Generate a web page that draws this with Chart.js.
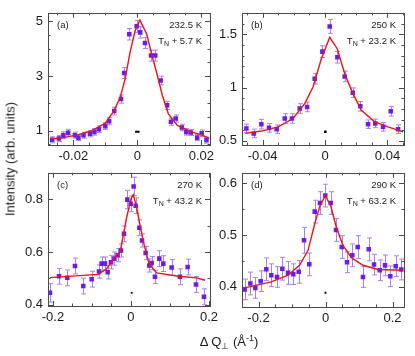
<!DOCTYPE html>
<html>
<head>
<meta charset="utf-8">
<script src="https://cdn.jsdelivr.net/npm/chart.js@4.4.0/dist/chart.umd.min.js"></script>
<style>
  body { margin: 0; background: #fff; width: 415px; height: 356px; position: relative; overflow: hidden;
         font-family: "Liberation Sans", Arial, sans-serif; color: #1a1a1a; }
  canvas { position: absolute; }
  .title { position: absolute; font-size: 13px; white-space: nowrap; z-index: 5; }
  #ytitle { left: 10px; top: 159px; transform: translate(-50%, -50%) rotate(-90deg); }
  #xtitle { left: 229px; top: 342px; transform: translate(-50%, -50%); }
  .title sub, .title sup { font-size: 9px; }
</style>
</head>
<body>
<div id="ytitle" class="title">Intensity (arb. units)</div>
<div id="xtitle" class="title">&Delta; Q<sub>&perp;</sub> (&Aring;<sup>-1</sup>)</div>
<script>
// (a) 232.5 K
const xA = [-0.0266, -0.0245, -0.0231, -0.0216, -0.0195, -0.0184, -0.0168, -0.0148, -0.0134, -0.0120, -0.0100, -0.0088, -0.0072, -0.0051, -0.0041, -0.0025, -0.0002, 0.0009, 0.0024, 0.0043, 0.0056, 0.0073, 0.0093, 0.0105, 0.0120, 0.0139, 0.0153, 0.0167, 0.0187, 0.0201, 0.0216];
const yA = [0.67, 0.72, 0.84, 0.93, 0.84, 0.75, 0.84, 0.89, 0.96, 1.06, 1.17, 1.35, 1.72, 2.16, 3.11, 4.53, 4.82, 4.60, 4.21, 3.75, 3.75, 2.84, 1.93, 1.33, 1.45, 1.12, 0.96, 0.94, 0.75, 0.91, 0.66];
const errA = [0.11, 0.11, 0.12, 0.12, 0.11, 0.11, 0.11, 0.11, 0.12, 0.12, 0.12, 0.13, 0.14, 0.15, 0.2, 0.21, 0.22, 0.21, 0.2, 0.2, 0.2, 0.16, 0.15, 0.13, 0.13, 0.12, 0.12, 0.11, 0.11, 0.12, 0.11];
const fitXA = [-0.0268, -0.0226, -0.0184, -0.0143, -0.0100, -0.0072, -0.0053, -0.0038, -0.0023, -0.0007, 0.0008, 0.0029, 0.0045, 0.0062, 0.0078, 0.0097, 0.0125, 0.0167, 0.0203, 0.0225];
const fitYA = [0.70, 0.76, 0.86, 1.00, 1.28, 1.75, 2.24, 2.90, 3.85, 4.66, 5.05, 4.55, 3.80, 3.05, 2.30, 1.62, 1.20, 0.97, 0.84, 0.72];
const resXA = [-0.0007, 0.0007];
const resYA = [0.964, 0.964];
const xTicksA = [-0.02, 0, 0.02];
const yTicksA = [1, 3, 5];

// (b) 250 K
const xB = [-0.0504, -0.0457, -0.0408, -0.0359, -0.0310, -0.0258, -0.0212, -0.0162, -0.0115, -0.0066, -0.0017, 0.0030, 0.0079, 0.0126, 0.0178, 0.0226, 0.0276, 0.0322, 0.0372, 0.0421, 0.0468];
const yB = [0.617, 0.570, 0.657, 0.622, 0.610, 0.710, 0.710, 0.804, 0.819, 1.084, 1.339, 1.576, 1.286, 1.106, 0.953, 0.825, 0.657, 0.664, 0.632, 0.778, 0.610];
const errB = [0.04, 0.04, 0.045, 0.04, 0.04, 0.045, 0.045, 0.045, 0.045, 0.05, 0.055, 0.065, 0.055, 0.05, 0.045, 0.045, 0.04, 0.04, 0.04, 0.045, 0.04];
const fitXB = [-0.0511, -0.0408, -0.0301, -0.0205, -0.0130, -0.0077, -0.0024, 0.0030, 0.0079, 0.0126, 0.0179, 0.0233, 0.0319, 0.0404, 0.0500];
const fitYB = [0.570, 0.592, 0.632, 0.710, 0.850, 1.006, 1.270, 1.473, 1.364, 1.131, 0.944, 0.788, 0.679, 0.632, 0.585];
const resXB = [0.0002];
const resYB = [0.585];
const xTicksB = [-0.04, 0, 0.04];
const yTicksB = [0.5, 1, 1.5];

// (c) 270 K
const xC = [-0.2077, -0.1846, -0.1633, -0.1436, -0.1223, -0.1008, -0.0821, -0.0752, -0.0667, -0.0598, -0.0513, -0.0427, -0.0342, -0.0256, -0.0179, -0.0094, -0.0008, 0.0068, 0.0120, 0.0214, 0.0282, 0.0376, 0.0470, 0.0530, 0.0615, 0.0726, 0.0829, 0.1043, 0.1256, 0.1453, 0.1667, 0.1872];
const yC = [0.445, 0.508, 0.502, 0.547, 0.471, 0.497, 0.526, 0.556, 0.556, 0.523, 0.561, 0.575, 0.588, 0.606, 0.669, 0.799, 0.783, 0.849, 0.776, 0.692, 0.644, 0.596, 0.549, 0.558, 0.506, 0.575, 0.556, 0.541, 0.506, 0.543, 0.477, 0.430];
const errC = [0.035, 0.03, 0.03, 0.03, 0.03, 0.03, 0.025, 0.025, 0.025, 0.025, 0.025, 0.025, 0.025, 0.025, 0.03, 0.035, 0.03, 0.035, 0.03, 0.03, 0.025, 0.025, 0.025, 0.025, 0.025, 0.03, 0.03, 0.03, 0.03, 0.03, 0.03, 0.03];
const fitXC = [-0.2077, -0.0838, -0.0623, -0.0410, -0.0280, -0.0110, 0.0000, 0.0059, 0.0146, 0.0231, 0.0341, 0.0462, 0.0659, 0.1213, 0.1685, 0.1897];
const fitYC = [0.503, 0.515, 0.537, 0.581, 0.600, 0.732, 0.802, 0.817, 0.770, 0.701, 0.625, 0.556, 0.521, 0.508, 0.502, 0.493];
const resXC = [0.0018];
const resYC = [0.445];
const xTicksC = [-0.2, 0, 0.2];
const yTicksC = [0.4, 0.6, 0.8];

// (d) 290 K
const xD = [-0.2413, -0.2244, -0.2095, -0.1935, -0.1767, -0.1618, -0.1448, -0.1289, -0.1119, -0.0961, -0.0800, -0.0642, -0.0484, -0.0322, -0.0164, -0.0006, 0.0155, 0.0313, 0.0484, 0.0642, 0.0800, 0.0961, 0.1119, 0.1290, 0.1448, 0.1618, 0.1776, 0.1934, 0.2096, 0.2263];
const yD = [0.395, 0.4065, 0.398, 0.411, 0.434, 0.4225, 0.419, 0.435, 0.427, 0.4245, 0.429, 0.490, 0.4435, 0.5455, 0.562, 0.5765, 0.562, 0.510, 0.477, 0.4475, 0.461, 0.477, 0.419, 0.4725, 0.443, 0.432, 0.4415, 0.4205, 0.440, 0.4335];
const errD = [0.02, 0.022, 0.02, 0.02, 0.022, 0.022, 0.02, 0.022, 0.022, 0.02, 0.022, 0.025, 0.022, 0.022, 0.022, 0.022, 0.022, 0.022, 0.022, 0.02, 0.022, 0.022, 0.02, 0.022, 0.02, 0.02, 0.02, 0.02, 0.02, 0.02];
const fitXD = [-0.2412, -0.1618, -0.1119, -0.0770, -0.0522, -0.0322, -0.0164, -0.0006, 0.0155, 0.0322, 0.0522, 0.0770, 0.1119, 0.1567, 0.2313];
const fitYD = [0.398, 0.4096, 0.4225, 0.442, 0.4706, 0.522, 0.557, 0.5765, 0.557, 0.5154, 0.480, 0.4565, 0.4417, 0.4335, 0.432];
const resXD = [0.0];
const resYD = [0.3885];
const xTicksD = [-0.2, 0, 0.2];
const yTicksD = [0.4, 0.5, 0.6];

const RED = "#e8141c";
const MARK = "#6a1cf0";
const BAR = "#a682f5";
const FRAME = "#4a4a4a";
const FONT = "Liberation Sans";

// box = canvas [left, top, width, height], frame = plot area [left, top, right, bottom]
const panels = [
    { box: [0, 0, 226, 165], frame: [48, 12, 210, 145], xr: [-0.0279, 0.0227], yr: [0.48, 5.316],
      x: xA, y: yA, err: errA, fx: fitXA, fy: fitYA, rx: resXA, ry: resYA, xt: xTicksA, yt: yTicksA,
      xm: 0.005, ym: 0.5, resDot: 0, tag: "(a)", temp: "232.5 K", tn: " + 5.7 K" },
    { box: [212, 0, 203, 165], frame: [242, 12, 404, 145], xr: [-0.0532, 0.0506], yr: [0.461, 1.704],
      x: xB, y: yB, err: errB, fx: fitXB, fy: fitYB, rx: resXB, ry: resYB, xt: xTicksB, yt: yTicksB,
      xm: 0.01, ym: 0.1, resDot: 1.8, tag: "(b)", temp: "250 K", tn: " + 23.2 K" },
    { box: [0, 160, 226, 196], frame: [48, 172, 210, 306], xr: [-0.2128, 0.2026], yr: [0.3951, 0.9008],
      x: xC, y: yC, err: errC, fx: fitXC, fy: fitYC, rx: resXC, ry: resYC, xt: xTicksC, yt: yTicksC,
      xm: 0.05, ym: 0.1, resDot: 1.3, tag: "(c)", temp: "270 K", tn: " + 43.2 K" },
    { box: [212, 160, 203, 196], frame: [242, 172, 404, 307], xr: [-0.2493, 0.2343], yr: [0.361, 0.6206],
      x: xD, y: yD, err: errD, fx: fitXD, fy: fitYD, rx: resXD, ry: resYD, xt: xTicksD, yt: yTicksD,
      xm: 0.05, ym: 0.05, resDot: 1.3, tag: "(d)", temp: "290 K", tn: " + 63.2 K" }
];

function toPoints(xs, ys) {
    return xs.map((v, i) => ({ x: v, y: ys[i] }));
}

function drawTickMarks(ctx, scale, values, len, area, horizontal) {
    values.forEach(v => {
        const p = Math.round(scale.getPixelForValue(v)) + 0.5;
        ctx.beginPath();
        if (horizontal) {
            ctx.moveTo(p, area.bottom); ctx.lineTo(p, area.bottom - len);
            ctx.moveTo(p, area.top); ctx.lineTo(p, area.top + len);
        } else {
            ctx.moveTo(area.left, p); ctx.lineTo(area.left + len, p);
            ctx.moveTo(area.right, p); ctx.lineTo(area.right - len, p);
        }
        ctx.stroke();
    });
}

function minorValues(min, max, step, majors) {
    const out = [];
    for (let v = Math.ceil(min / step) * step; v <= max; v += step) {
        if (!majors.some(m => Math.abs(m - v) < step / 10)) out.push(v);
    }
    return out;
}

function buildPanel(p) {
    const canvas = document.createElement("canvas");
    canvas.width = p.box[2];
    canvas.height = p.box[3];
    canvas.style.left = p.box[0] + "px";
    canvas.style.top = p.box[1] + "px";
    document.body.appendChild(canvas);

    const decor = {
        id: "decor",
        beforeDatasetsDraw(chart) {
            const ctx = chart.ctx, xs = chart.scales.x, ys = chart.scales.y;
            ctx.save();
            ctx.strokeStyle = BAR;
            ctx.lineWidth = 1;
            p.x.forEach((v, i) => {
                const px = Math.round(xs.getPixelForValue(v)) + 0.5;
                const lo = ys.getPixelForValue(p.y[i] - p.err[i]);
                const hi = ys.getPixelForValue(p.y[i] + p.err[i]);
                ctx.beginPath();
                ctx.moveTo(px, lo); ctx.lineTo(px, hi);
                ctx.moveTo(px - 2.5, lo); ctx.lineTo(px + 2.5, lo);
                ctx.moveTo(px - 2.5, hi); ctx.lineTo(px + 2.5, hi);
                ctx.stroke();
            });
            ctx.restore();
        },
        afterDraw(chart) {
            const ctx = chart.ctx, a = chart.chartArea;
            const xs = chart.scales.x, ys = chart.scales.y;
            ctx.save();
            ctx.strokeStyle = FRAME;
            ctx.lineWidth = 1;
            ctx.strokeRect(Math.round(a.left) + 0.5, Math.round(a.top) + 0.5,
                Math.round(a.right - a.left), Math.round(a.bottom - a.top));
            drawTickMarks(ctx, xs, p.xt, 5, a, true);
            drawTickMarks(ctx, ys, p.yt, 5, a, false);
            drawTickMarks(ctx, xs, minorValues(p.xr[0], p.xr[1], p.xm, p.xt), 2.5, a, true);
            drawTickMarks(ctx, ys, minorValues(p.yr[0], p.yr[1], p.ym, p.yt), 2.5, a, false);

            // panel annotations
            ctx.fillStyle = "#1a1a1a";
            ctx.textBaseline = "alphabetic";
            ctx.font = "9.5px '" + FONT + "'";
            ctx.textAlign = "left";
            ctx.fillText(p.tag, a.left + 9, a.top + 15.5);
            ctx.textAlign = "right";
            ctx.fillText(p.temp, a.right - 8, a.top + 15.5);
            const wT = ctx.measureText("T").width;
            const wRest = ctx.measureText(p.tn).width;
            ctx.font = "7px '" + FONT + "'";
            const wN = ctx.measureText("N").width;
            let x0 = a.right - 8 - (wT + wN + wRest);
            ctx.textAlign = "left";
            ctx.font = "9.5px '" + FONT + "'";
            ctx.fillText("T", x0, a.top + 31);
            ctx.font = "7px '" + FONT + "'";
            ctx.fillText("N", x0 + wT, a.top + 33.5);
            ctx.font = "9.5px '" + FONT + "'";
            ctx.fillText(p.tn, x0 + wT + wN, a.top + 31);
            ctx.restore();
        }
    };

    const tickFont = { family: FONT, size: 13 };

    new Chart(canvas, {
        type: "scatter",
        data: {
            datasets: [
                {
                    type: "line",
                    data: toPoints(p.fx, p.fy),
                    borderColor: RED,
                    borderWidth: 1.4,
                    pointRadius: 0,
                    tension: 0,
                    fill: false
                },
                {
                    data: toPoints(p.x, p.y),
                    pointStyle: "rect",
                    pointRadius: 3.2,
                    backgroundColor: MARK,
                    borderWidth: 0
                },
                {
                    type: "line",
                    data: toPoints(p.rx, p.ry),
                    borderColor: "#000",
                    backgroundColor: "#000",
                    borderWidth: 2,
                    pointRadius: p.resDot,
                    pointBorderWidth: 0,
                    pointStyle: "rect"
                }
            ]
        },
        options: {
            responsive: false,
            animation: false,
            devicePixelRatio: 1,
            layout: {
                padding: { top: p.frame[1] - p.box[1], right: p.box[0] + p.box[2] - p.frame[2], left: 0, bottom: 0 }
            },
            plugins: {
                legend: { display: false },
                tooltip: { enabled: false }
            },
            scales: {
                x: {
                    type: "linear",
                    min: p.xr[0],
                    max: p.xr[1],
                    grid: { display: false, drawTicks: false },
                    border: { display: false },
                    ticks: { font: tickFont, color: "#1a1a1a", padding: 4, maxRotation: 0, callback: v => String(v) },
                    afterBuildTicks: s => { s.ticks = p.xt.map(v => ({ value: v })); },
                    afterFit: s => { s.height = p.box[1] + p.box[3] - p.frame[3]; }
                },
                y: {
                    type: "linear",
                    min: p.yr[0],
                    max: p.yr[1],
                    grid: { display: false, drawTicks: false },
                    border: { display: false },
                    ticks: { font: tickFont, color: "#1a1a1a", padding: 5, callback: v => String(v) },
                    afterBuildTicks: s => { s.ticks = p.yt.map(v => ({ value: v })); },
                    afterFit: s => { s.width = p.frame[0] - p.box[0]; }
                }
            }
        },
        plugins: [decor]
    });
}

panels.forEach(buildPanel);
</script>
</body>
</html>
